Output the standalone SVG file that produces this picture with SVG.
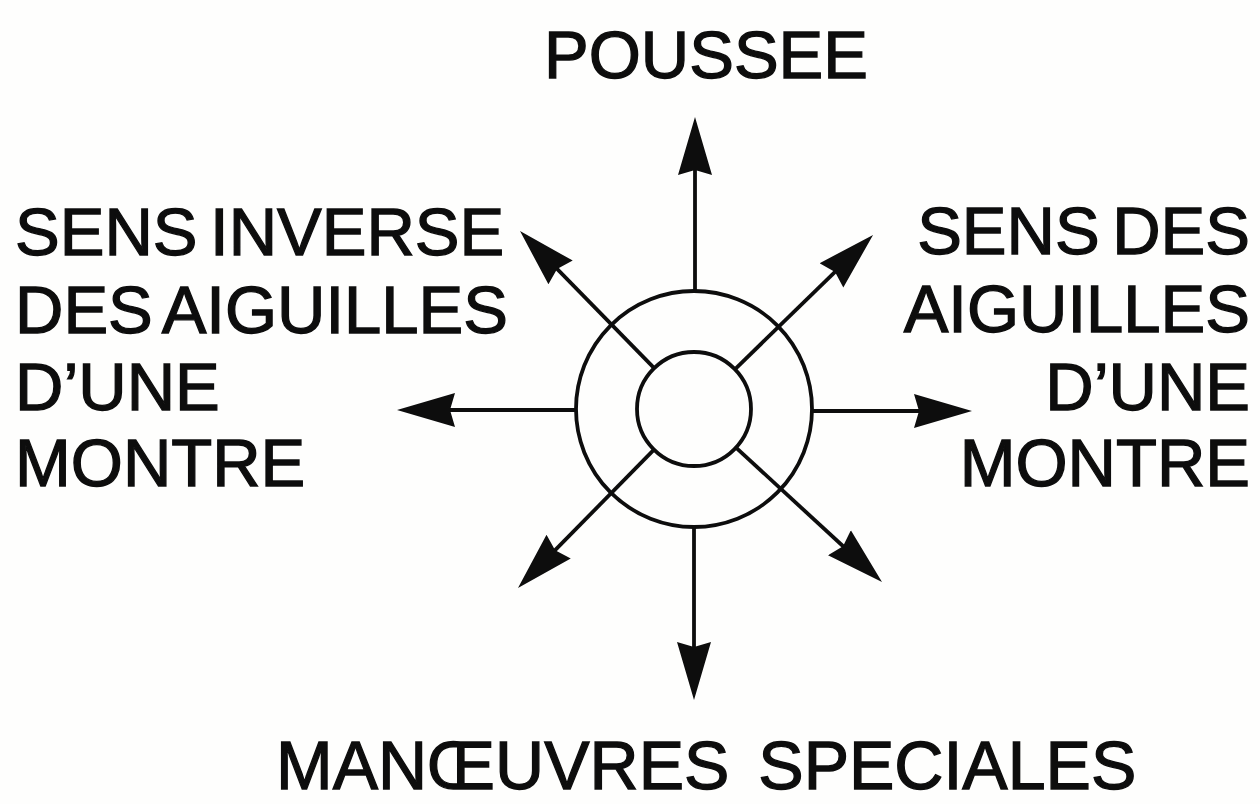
<svg xmlns="http://www.w3.org/2000/svg" width="1260" height="804" viewBox="0 0 1260 804">
  <style>
    .lbl { font-family: "Liberation Sans", Arial, sans-serif; font-size: 67px; fill: #0d0d0d; stroke: #0d0d0d; stroke-width: 1.3; word-spacing: -6px; }
    .ring { fill: none; stroke: #0d0d0d; stroke-width: 3.8; }
    .ray { fill: none; stroke: #0d0d0d; stroke-width: 3.8; marker-end: url(#ah); }
  </style>
  <defs>
    <marker id="ah" viewBox="0 0 60 36" refX="38" refY="18" markerWidth="60" markerHeight="36" markerUnits="userSpaceOnUse" orient="auto">
      <path d="M58,18 L0,1 L5,18 L0,35 Z" fill="#0d0d0d"/>
    </marker>
  </defs>
  <rect width="1260" height="804" fill="#fefefd"/>

  <g id="hub">
    <circle class="ring" cx="694" cy="409" r="118"/>
    <circle class="ring" cx="694" cy="409" r="57"/>
  </g>

  <g id="connectors">
    <line class="ray" x1="695" y1="291" x2="695" y2="137"/>
    <line class="ray" x1="694" y1="527" x2="694" y2="680"/>
    <line class="ray" x1="576" y1="410" x2="417" y2="410"/>
    <line class="ray" x1="812" y1="411" x2="952" y2="411"/>
    <line class="ray" x1="654.2" y1="368.2" x2="534" y2="245.3"/>
    <line class="ray" x1="734.9" y1="369.3" x2="858.7" y2="248.9"/>
    <line class="ray" x1="654" y1="449.6" x2="532" y2="573.7"/>
    <line class="ray" x1="736" y1="447.6" x2="867.3" y2="568.5"/>
  </g>

  <g id="label-poussee">
    <text class="lbl" x="706" y="78" text-anchor="middle">POUSSEE</text>
  </g>

  <g id="label-left">
    <text class="lbl" x="15" y="255">SENS INVERSE</text>
    <text class="lbl" x="15" y="333">DES AIGUILLES</text>
    <text class="lbl" x="15" y="410">D’UNE</text>
    <text class="lbl" x="15" y="486">MONTRE</text>
  </g>

  <g id="label-right">
    <text class="lbl" x="1250" y="254" text-anchor="end">SENS DES</text>
    <text class="lbl" x="1250" y="332" text-anchor="end">AIGUILLES</text>
    <text class="lbl" x="1250" y="410" text-anchor="end">D’UNE</text>
    <text class="lbl" x="1250" y="486" text-anchor="end">MONTRE</text>
  </g>

  <g id="label-bottom">
    <text class="lbl" x="276" y="789" style="font-size:68px; word-spacing:10px">MANŒUVRES SPECIALES</text>
  </g>
</svg>
